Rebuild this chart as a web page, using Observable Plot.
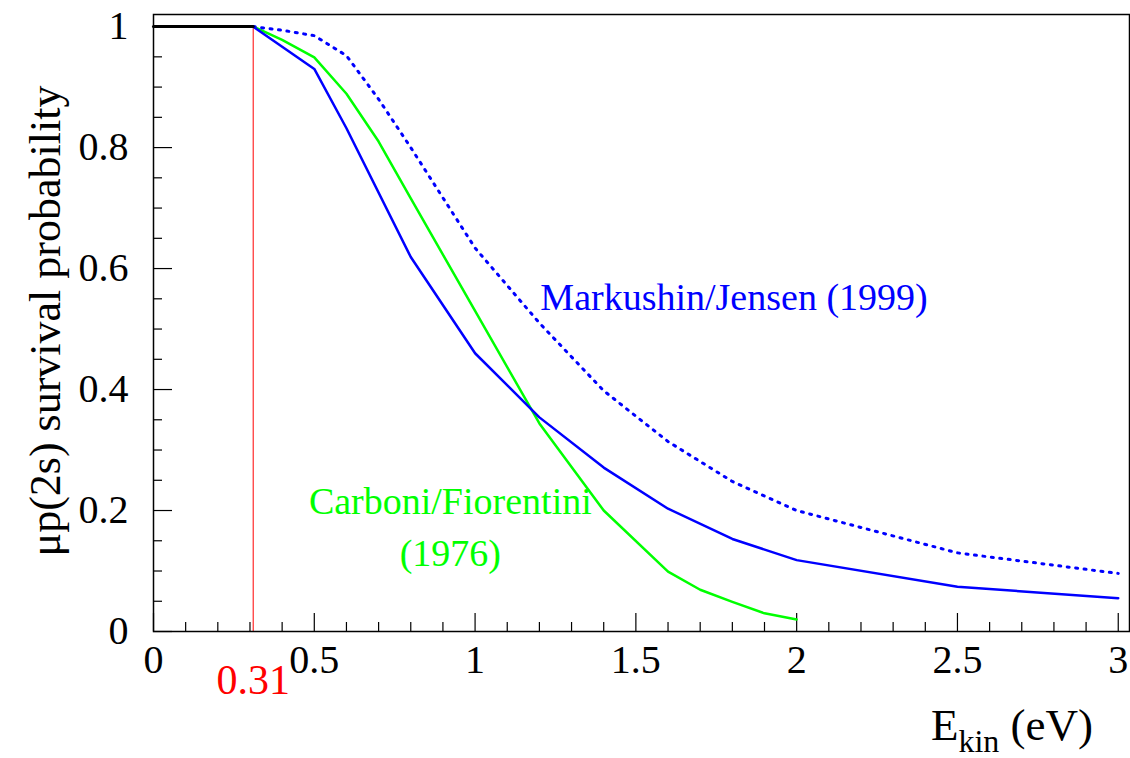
<!DOCTYPE html>
<html><head><meta charset="utf-8">
<script src="https://cdn.jsdelivr.net/npm/d3@7"></script>
<script src="https://cdn.jsdelivr.net/npm/@observablehq/plot@0.6"></script>
<style>body{margin:0;background:#fff;} svg{display:block} svg text{font-family:'Liberation Serif','Times New Roman',serif;}</style>
</head><body><div id="chart"></div>
<script>
// Threshold plateau (survival = 1 below 0.31 eV)
const flatE = [0, 0.31];
const flatP = [1, 1];
// Markushin/Jensen (1999), solid
const mjE = [0.31, 0.5, 0.6, 0.8, 1.0, 1.2, 1.4, 1.6, 1.8, 2.0, 2.5, 3.0];
const mjP = [1.0, 0.93, 0.832, 0.619, 0.46, 0.354, 0.271, 0.203, 0.153, 0.118, 0.074, 0.055];
// Markushin/Jensen (1999), dotted
const mjDotE = [0.31, 0.4, 0.5, 0.6, 0.7, 0.8, 1.0, 1.2, 1.4, 1.6, 1.8, 2.0, 2.5, 3.0];
const mjDotP = [1.0, 0.994, 0.985, 0.952, 0.88, 0.80, 0.634, 0.51, 0.398, 0.314, 0.248, 0.2, 0.13, 0.096];
// Carboni/Fiorentini (1976)
const cfE = [0.31, 0.4, 0.5, 0.6, 0.7, 0.8, 1.0, 1.2, 1.4, 1.6, 1.7, 1.8, 1.9, 2.0];
const cfP = [1.0, 0.978, 0.949, 0.889, 0.81, 0.716, 0.53, 0.344, 0.2, 0.099, 0.069, 0.049, 0.03, 0.02];
// Threshold
const threshold = [0.31];
const thresholdLabel = ["0.31"];
// Ticks
const xMajor = [0, 0.5, 1, 1.5, 2, 2.5, 3];
const xMinor = [0.1, 0.2, 0.3, 0.4, 0.6, 0.7, 0.8, 0.9, 1.1, 1.2, 1.3, 1.4, 1.6, 1.7, 1.8, 1.9, 2.1, 2.2, 2.3, 2.4, 2.6, 2.7, 2.8, 2.9];
const yMajor = [0, 0.2, 0.4, 0.6, 0.8, 1];
const yMinor = [0.05, 0.1, 0.15, 0.25, 0.3, 0.35, 0.45, 0.5, 0.55, 0.65, 0.7, 0.75, 0.85, 0.9, 0.95];
// Texts
const seriesNames = ["Markushin/Jensen (1999)", "Carboni/Fiorentini\n(1976)"];
const xTitle = ["E", "kin", " (eV)"];
const yTitle = "μp(2s) survival probability";

const rows = (xs, ys) => xs.map((x, i) => ({x, y: ys[i]}));
const W = 1130, H = 758, mL = 153, mR = 1, mT = 14, mB = 127;
const plotW = W - mL - mR, plotH = H - mT - mB;
const serif = "'Liberation Serif', 'Times New Roman', serif";
const BLUE = "#0000ff", GREEN = "#00ff00", RED = "#ff0000";

const mjLabel = [{x: 1.203, y: 0.531, text: seriesNames[0]}];
const cfLabel = [{x: 0.923, y: 0.109, text: seriesNames[1]}];

const plot = Plot.plot({
  width: W, height: H,
  marginLeft: mL, marginRight: mR, marginTop: mT, marginBottom: mB,
  x: {domain: [0, 3.035]},
  y: {domain: [0, 1.02]},
  style: {fontFamily: serif, fontSize: "40px", background: "white", color: "black"},
  marks: [
    Plot.tickX(xMajor, {x: d => d, insetTop: plotH - 18, stroke: "black", strokeWidth: 1.2}),
    Plot.tickX(xMinor, {x: d => d, insetTop: plotH - 9, stroke: "black", strokeWidth: 1.2}),
    Plot.tickY(yMajor, {y: d => d, insetRight: plotW - 19, stroke: "black", strokeWidth: 1.2}),
    Plot.tickY(yMinor, {y: d => d, insetRight: plotW - 9, stroke: "black", strokeWidth: 1.2}),
    Plot.axisX({ticks: xMajor, tickSize: 0, tickPadding: 13, tickFormat: d => String(d), label: null, fontSize: 40}),
    Plot.axisY({ticks: yMajor, tickSize: 0, tickPadding: 25, tickFormat: d => String(d), label: null, fontSize: 40}),
    Plot.ruleX(threshold, {x: d => d, y1: 0, y2: 1, stroke: RED, strokeWidth: 1}),
    Plot.line(rows(cfE, cfP), {x: "x", y: "y", stroke: GREEN, strokeWidth: 2.5}),
    Plot.line(rows(mjE, mjP), {x: "x", y: "y", stroke: BLUE, strokeWidth: 2.5}),
    Plot.line(rows(mjDotE, mjDotP), {x: "x", y: "y", stroke: BLUE, strokeWidth: 3, strokeDasharray: "2,6.5"}),
    Plot.line(rows(flatE, flatP), {x: "x", y: "y", stroke: "black", strokeWidth: 3}),
    Plot.text(mjLabel, {x: "x", y: "y", text: "text", fill: BLUE, fontSize: 38,
      textAnchor: "start", lineAnchor: "bottom"}),
    Plot.text(cfLabel, {x: "x", y: "y", text: "text", fill: GREEN, fontSize: 38,
      textAnchor: "middle", lineAnchor: "bottom", lineHeight: 1.37}),
    Plot.text(threshold, {x: d => d, y: () => 0, text: (d, i) => thresholdLabel[i], fill: RED,
      fontSize: 42, lineAnchor: "bottom", dy: 62}),
    Plot.frame({stroke: "black", strokeWidth: 1.5})
  ]
});

const svg = d3.select(plot);
// x-axis title with subscript
const xt = svg.append("text")
  .attr("x", 1093).attr("y", 740)
  .attr("text-anchor", "end")
  .style("font-family", serif).attr("font-size", 45).attr("fill", "black");
xt.append("tspan").text(xTitle[0]);
xt.append("tspan").attr("dy", 12).attr("font-size", 32).text(xTitle[1]);
xt.append("tspan").attr("dy", -12).text(xTitle[2]);
// y-axis title, rotated
svg.append("text")
  .attr("transform", "translate(60,321) rotate(-90)")
  .attr("text-anchor", "middle")
  .style("font-family", serif).attr("font-size", 44).attr("fill", "black")
  .text(yTitle);

document.getElementById("chart").appendChild(plot);
</script>
</body></html>
